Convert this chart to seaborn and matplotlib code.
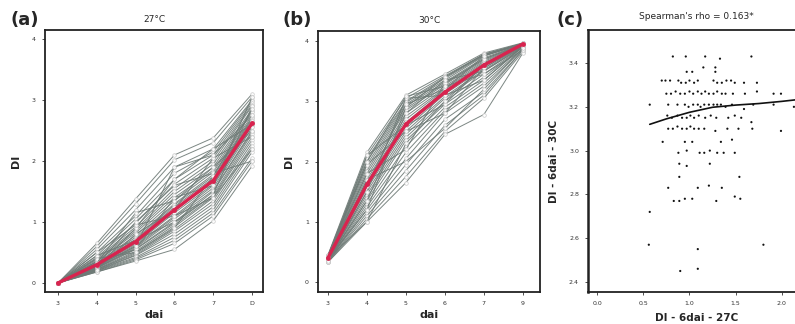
import matplotlib
matplotlib.use("Agg")
import matplotlib.pyplot as plt
import numpy as np
import pandas as pd
import seaborn as sns

# ---- data ----
days_a = ["3", "4", "5", "6", "7", "D"]
days_b = ["3", "4", "5", "6", "7", "9"]

# panel (a), 27C: disease index per genotype over days
lines_27 = [
    [0, 0.65, 1.38, 2.10, 2.38, 3.10],
    [0, 0.60, 1.30, 2.02, 2.30, 3.05],
    [0, 0.55, 1.20, 1.90, 2.20, 3.00],
    [0, 0.50, 1.10, 1.80, 2.15, 2.98],
    [0, 0.45, 1.05, 1.70, 2.10, 2.95],
    [0, 0.42, 0.98, 1.62, 2.05, 2.92],
    [0, 0.40, 0.92, 1.55, 2.00, 2.90],
    [0, 0.38, 0.88, 1.50, 1.95, 2.85],
    [0, 0.36, 0.85, 1.45, 1.90, 2.82],
    [0, 0.35, 0.82, 1.40, 1.85, 2.80],
    [0, 0.33, 0.78, 1.35, 1.82, 2.75],
    [0, 0.32, 0.75, 1.30, 1.78, 2.72],
    [0, 0.31, 0.72, 1.28, 1.75, 2.70],
    [0, 0.30, 0.70, 1.25, 1.72, 2.68],
    [0, 0.29, 0.68, 1.20, 1.70, 2.65],
    [0, 0.28, 0.66, 1.18, 1.66, 2.62],
    [0, 0.28, 0.64, 1.15, 1.62, 2.60],
    [0, 0.27, 0.62, 1.10, 1.60, 2.58],
    [0, 0.26, 0.60, 1.08, 1.56, 2.55],
    [0, 0.25, 0.58, 1.05, 1.52, 2.50],
    [0, 0.25, 0.56, 1.00, 1.50, 2.48],
    [0, 0.24, 0.55, 0.98, 1.45, 2.45],
    [0, 0.23, 0.52, 0.95, 1.42, 2.40],
    [0, 0.22, 0.50, 0.92, 1.40, 2.35],
    [0, 0.22, 0.48, 0.88, 1.35, 2.30],
    [0, 0.21, 0.46, 0.85, 1.30, 2.25],
    [0, 0.20, 0.45, 0.80, 1.25, 2.20],
    [0, 0.20, 0.42, 0.75, 1.20, 2.15],
    [0, 0.19, 0.40, 0.70, 1.15, 2.05],
    [0, 0.18, 0.38, 0.65, 1.10, 2.00],
    [0, 0.18, 0.36, 0.55, 1.02, 1.92],
    [0, 0.45, 0.70, 1.00, 1.45, 2.90],
    [0, 0.25, 0.90, 1.70, 2.20, 2.60],
    [0, 0.35, 0.55, 1.40, 1.60, 3.05],
    [0, 0.22, 0.80, 1.20, 2.05, 2.40],
    [0, 0.50, 0.95, 1.10, 1.40, 2.20],
    [0, 0.30, 1.00, 1.60, 1.80, 2.00],
    [0, 0.28, 0.60, 1.90, 2.10, 2.75],
    [0, 0.40, 0.50, 0.90, 1.75, 2.85],
    [0, 0.33, 1.15, 1.35, 1.90, 2.50],
]
mean_27 = [0, 0.30, 0.68, 1.20, 1.68, 2.62]

# panel (b), 30C
lines_30 = [
    [0.45, 2.15, 3.10, 3.45, 3.80, 3.97],
    [0.44, 2.10, 3.05, 3.42, 3.78, 3.96],
    [0.43, 2.05, 3.00, 3.40, 3.77, 3.96],
    [0.42, 2.00, 2.98, 3.38, 3.76, 3.95],
    [0.42, 1.95, 2.95, 3.35, 3.75, 3.95],
    [0.41, 1.90, 2.92, 3.32, 3.72, 3.95],
    [0.41, 1.85, 2.88, 3.30, 3.70, 3.94],
    [0.40, 1.80, 2.85, 3.28, 3.68, 3.94],
    [0.40, 1.75, 2.80, 3.25, 3.66, 3.94],
    [0.40, 1.70, 2.75, 3.22, 3.64, 3.93],
    [0.39, 1.66, 2.70, 3.20, 3.62, 3.93],
    [0.39, 1.62, 2.65, 3.18, 3.60, 3.93],
    [0.38, 1.58, 2.60, 3.15, 3.58, 3.92],
    [0.38, 1.55, 2.55, 3.12, 3.55, 3.92],
    [0.37, 1.50, 2.50, 3.08, 3.52, 3.92],
    [0.37, 1.45, 2.45, 3.05, 3.50, 3.91],
    [0.36, 1.40, 2.40, 3.00, 3.45, 3.90],
    [0.36, 1.35, 2.35, 2.95, 3.40, 3.90],
    [0.35, 1.30, 2.25, 2.90, 3.35, 3.90],
    [0.35, 1.25, 2.15, 2.85, 3.30, 3.88],
    [0.35, 1.20, 2.05, 2.80, 3.25, 3.87],
    [0.34, 1.15, 1.95, 2.70, 3.15, 3.85],
    [0.34, 1.10, 1.85, 2.60, 3.10, 3.85],
    [0.33, 1.05, 1.75, 2.50, 3.05, 3.82],
    [0.33, 1.00, 1.65, 2.45, 2.78, 3.80],
    [0.40, 2.10, 2.60, 2.95, 3.60, 3.96],
    [0.38, 1.20, 2.90, 3.40, 3.78, 3.96],
    [0.42, 1.80, 2.20, 3.30, 3.70, 3.95],
    [0.36, 1.50, 3.05, 3.10, 3.35, 3.92],
    [0.44, 1.95, 2.50, 2.80, 3.55, 3.94],
    [0.37, 1.35, 2.80, 3.35, 3.50, 3.90],
    [0.41, 1.60, 2.95, 3.20, 3.75, 3.96],
    [0.39, 1.00, 2.30, 3.00, 3.60, 3.93],
    [0.43, 2.00, 3.08, 3.25, 3.45, 3.85],
    [0.35, 1.70, 2.00, 2.55, 3.20, 3.88],
]
mean_30 = [0.40, 1.62, 2.62, 3.15, 3.60, 3.95]

# panel (c): DI at 6dai, 27C vs 30C
di27 = [0.82, 0.96, 1.17, 1.33, 1.67,
        1.15, 1.28, 0.97, 1.03, 1.28,
        0.70, 0.74, 0.79, 0.88, 0.91, 0.96, 1.00, 1.05, 1.09, 1.26, 1.30, 1.35, 1.40, 1.45, 1.49, 1.59, 1.73,
        0.75, 0.80, 0.85, 0.90, 0.95, 1.00, 1.04, 1.09, 1.13, 1.17, 1.21, 1.26, 1.30, 1.35, 1.39, 1.47, 1.60, 1.73, 1.91, 1.99,
        0.57, 0.77, 0.87, 0.95, 0.99, 1.04, 1.09, 1.12, 1.16, 1.21, 1.26, 1.30, 1.34, 1.39, 1.46, 1.59, 1.69, 1.91, 2.13,
        0.76, 0.81, 0.87, 0.92, 0.97, 1.01, 1.05, 1.10, 1.17, 1.23, 1.29, 1.42, 1.49, 1.56, 1.67,
        0.77, 0.82, 0.87, 0.92, 0.97, 1.01, 1.05, 1.10, 1.16, 1.28, 1.41, 1.53, 1.68, 1.99,
        0.71, 0.95, 1.03, 1.34, 1.46,
        0.88, 0.97, 1.11, 1.16, 1.22, 1.30, 1.37, 1.49,
        0.89, 0.97, 1.22,
        0.89, 1.54,
        0.77, 1.09, 1.21, 1.35,
        0.83, 0.89, 0.95, 1.03, 1.29, 1.49, 1.55,
        0.57,
        0.56, 1.09, 1.80,
        0.90, 1.09]
di30 = [3.43, 3.43, 3.43, 3.42, 3.43,
        3.38, 3.38, 3.36, 3.36, 3.36,
        3.32, 3.32, 3.32, 3.32, 3.31, 3.31, 3.32, 3.31, 3.32, 3.32, 3.31, 3.31, 3.32, 3.32, 3.31, 3.31, 3.31,
        3.26, 3.26, 3.27, 3.26, 3.26, 3.27, 3.26, 3.27, 3.26, 3.27, 3.26, 3.26, 3.27, 3.26, 3.26, 3.26, 3.26, 3.27, 3.26, 3.26,
        3.21, 3.21, 3.21, 3.21, 3.20, 3.21, 3.21, 3.20, 3.21, 3.21, 3.21, 3.21, 3.21, 3.20, 3.21, 3.19, 3.21, 3.21, 3.20,
        3.16, 3.15, 3.16, 3.15, 3.15, 3.16, 3.15, 3.16, 3.15, 3.16, 3.15, 3.15, 3.16, 3.15, 3.13,
        3.10, 3.10, 3.11, 3.10, 3.10, 3.11, 3.10, 3.10, 3.10, 3.09, 3.10, 3.10, 3.10, 3.09,
        3.04, 3.04, 3.04, 3.04, 3.05,
        2.99, 3.00, 2.99, 2.99, 3.00, 2.99, 2.99, 2.99,
        2.94, 2.93, 2.94,
        2.88, 2.88,
        2.83, 2.83, 2.84, 2.83,
        2.77, 2.77, 2.78, 2.78, 2.77, 2.79, 2.78,
        2.72,
        2.57, 2.55, 2.57,
        2.45, 2.46]
fit_x = [0.57, 0.75, 1.00, 1.25, 1.50, 1.75, 2.00, 2.15]
fit_y = [3.12, 3.145, 3.175, 3.198, 3.208, 3.215, 3.225, 3.232]


def long_df(lines, labels):
    rows = []
    for g, vals in enumerate(lines):
        for i, v in enumerate(vals):
            rows.append({"geno": g, "pos": i, "day": labels[i], "DI": v})
    return pd.DataFrame(rows)


sns.set_style("white")
plt.rcParams["font.family"] = ["DejaVu Sans"]

W, H = 795, 324
fig = plt.figure(figsize=(W / 100, H / 100), dpi=100)


def box(l, r, t, b):
    return [l / W, 1 - b / H, (r - l) / W, (b - t) / H]


grey = "#6e7a76"
red = "#d8244f"


def line_panel(ax, lines, mean, labels, xlim, ylim):
    df = long_df(lines, labels)
    sns.lineplot(data=df, x="pos", y="DI", units="geno", estimator=None,
                 color=grey, lw=0.7, alpha=0.9, marker="o", markersize=2.6,
                 markerfacecolor="white", markeredgecolor="#c4c4c4",
                 markeredgewidth=0.5, ax=ax, legend=False)
    mdf = pd.DataFrame({"pos": range(len(mean)), "DI": mean})
    sns.lineplot(data=mdf, x="pos", y="DI", color=red, lw=2.4, marker="o",
                 markersize=3.5, markeredgewidth=0, ax=ax)
    ax.set_xlim(*xlim)
    ax.set_ylim(*ylim)
    ax.set_xticks(range(len(labels)))
    ax.set_xticklabels(labels)
    ax.set_yticks([0, 1, 2, 3, 4])
    ax.set_xlabel("dai", fontsize=8, fontweight="bold", labelpad=3)
    ax.set_ylabel("DI", fontsize=8, fontweight="bold", labelpad=8)
    for s in ax.spines.values():
        s.set_linewidth(1.3)
        s.set_color("#222222")
    ax.tick_params(axis="both", labelsize=4.5, length=2.5, width=0.6,
                   colors="#333333", pad=4, left=True, bottom=True)


ax1 = fig.add_axes(box(45, 263, 30, 292))
line_panel(ax1, lines_27, mean_27, days_a, (-0.335, 5.28), (-0.148, 4.148))
ax1.set_title("27°C", fontsize=6.5, pad=6)

ax2 = fig.add_axes(box(318, 540, 31, 292))
line_panel(ax2, lines_30, mean_30, days_b, (-0.256, 5.44), (-0.166, 4.166))
ax2.set_title("30°C", fontsize=6.5, pad=6)

ax3 = fig.add_axes(box(588, 805, 30, 292))
sdf = pd.DataFrame({"x": di27, "y": di30})
sns.scatterplot(data=sdf, x="x", y="y", ax=ax3, s=2.5, color="#111111",
                edgecolor="none", legend=False)
fdf = pd.DataFrame({"x": fit_x, "y": fit_y})
sns.lineplot(data=fdf, x="x", y="y", ax=ax3, color="#111111", lw=1.2)
ax3.set_xlim(-0.098, 2.25)
ax3.set_ylim(2.354, 3.551)
ax3.set_xticks([0.0, 0.5, 1.0, 1.5, 2.0])
ax3.set_xticklabels(["0.0", "0.5", "1.0", "1.5", "2.0"])
ax3.set_yticks([2.4, 2.6, 2.8, 3.0, 3.2, 3.4])
ax3.set_yticklabels(["2.4", "2.6", "2.8", "3.0", "3.2", "3.4"])
ax3.set_xlabel("DI - 6dai - 27C", fontsize=7.5, fontweight="bold", labelpad=5)
ax3.set_ylabel("DI - 6dai - 30C", fontsize=7.5, fontweight="bold", labelpad=7)
ax3.set_title("Spearman's rho = 0.163*", fontsize=6.5, pad=8)
for s in ax3.spines.values():
    s.set_linewidth(1.3)
    s.set_color("#222222")
ax3.spines["left"].set_linewidth(1.8)
ax3.tick_params(axis="both", labelsize=4.5, length=2.5, width=0.6,
                colors="#333333", pad=4, left=True, bottom=True)

fig.text(10 / W, 1 - 25 / H, "(a)", fontsize=13, fontweight="bold")
fig.text(283 / W, 1 - 25 / H, "(b)", fontsize=13, fontweight="bold")
fig.text(557 / W, 1 - 25 / H, "(c)", fontsize=13, fontweight="bold")

fig.savefig("out.png", dpi=100)
